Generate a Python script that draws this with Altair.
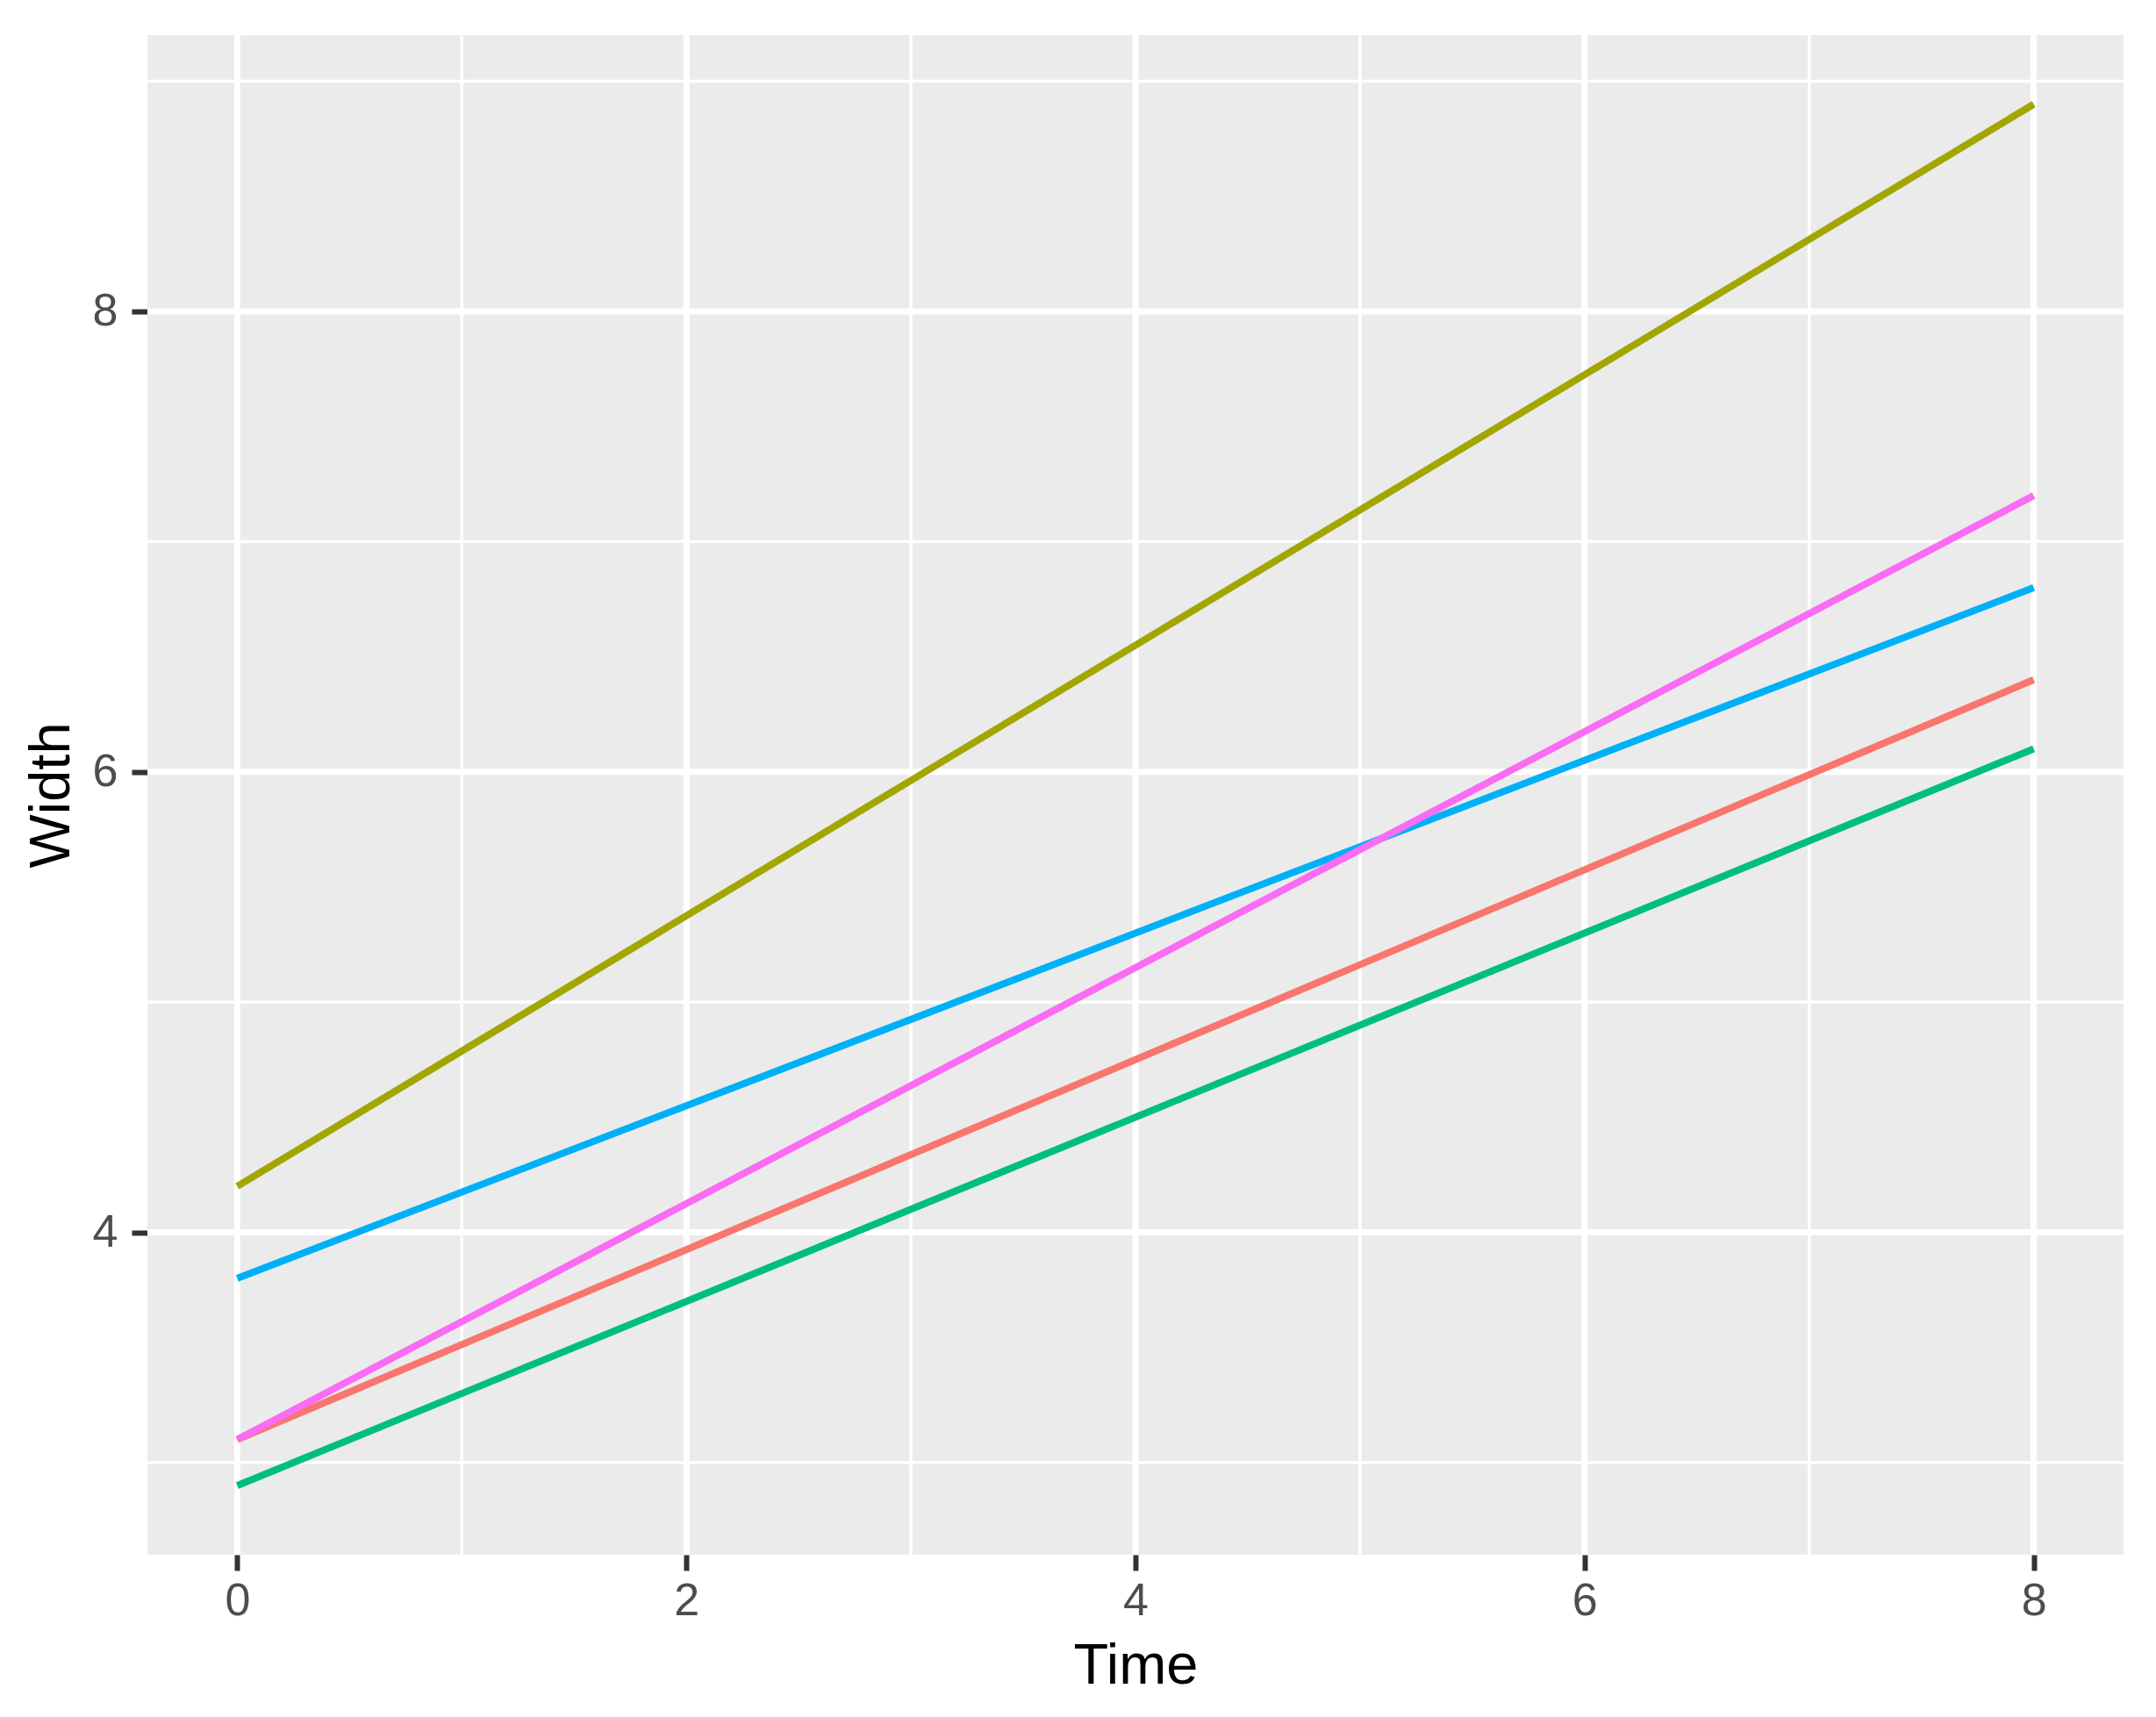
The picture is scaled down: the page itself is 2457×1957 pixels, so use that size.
import altair as alt
import pandas as pd

# Data (each series is a straight line from Time 0 to Time 8)
series = ["1", "2", "3", "4", "5"]
time_points = [0, 8]
width_start = [3.1, 4.2, 2.9, 3.8, 3.1]
width_end = [6.4, 8.9, 6.1, 6.8, 7.2]
colors = ["#F8766D", "#A3A500", "#00BF7D", "#00B0F6", "#F96CF3"]

x_major = [0, 2, 4, 6, 8]
x_minor = [1, 3, 5, 7]
y_major = [4, 6, 8]
y_minor = [3, 5, 7, 9]

rows = []
for s, a, b in zip(series, width_start, width_end):
    rows.append({"Series": s, "Time": time_points[0], "Width": a})
    rows.append({"Series": s, "Time": time_points[1], "Width": b})
df = pd.DataFrame(rows)

x_dom = [-0.4, 8.4]
y_dom = [2.6, 9.2]
x_scale = alt.Scale(domain=x_dom, nice=False, zero=False)
y_scale = alt.Scale(domain=y_dom, nice=False, zero=False)

x_axis = alt.Axis(
    values=x_major,
    title="Time",
    titleY=146,
    titleBaseline="alphabetic",
    labelPadding=9,
    grid=False,
)
y_axis = alt.Axis(
    values=y_major,
    title="Width",
    titleX=-90,
    titleBaseline="alphabetic",
    labelPadding=16,
    grid=False,
)

# gridlines drawn as rules (minor thinner than major)
vminor = alt.Chart(pd.DataFrame({"Time": x_minor})).mark_rule(
    color="white", strokeWidth=3.5
).encode(x=alt.X("Time:Q", scale=x_scale, axis=x_axis))
hminor = alt.Chart(pd.DataFrame({"Width": y_minor})).mark_rule(
    color="white", strokeWidth=3.5
).encode(y=alt.Y("Width:Q", scale=y_scale, axis=y_axis))
vmajor = alt.Chart(pd.DataFrame({"Time": x_major})).mark_rule(
    color="white", strokeWidth=7
).encode(x=alt.X("Time:Q", scale=x_scale, axis=x_axis))
hmajor = alt.Chart(pd.DataFrame({"Width": y_major})).mark_rule(
    color="white", strokeWidth=7
).encode(y=alt.Y("Width:Q", scale=y_scale, axis=y_axis))

lines = alt.Chart(df).mark_line(strokeWidth=8, strokeCap="butt").encode(
    x=alt.X("Time:Q", scale=x_scale, axis=x_axis),
    y=alt.Y("Width:Q", scale=y_scale, axis=y_axis),
    color=alt.Color(
        "Series:N",
        scale=alt.Scale(domain=series, range=colors),
        legend=None,
    ),
    detail="Series:N",
)

chart = (
    alt.layer(vminor, hminor, vmajor, hmajor, lines)
    .properties(
        width=2252,
        height=1732,
        autosize=alt.AutoSizeParams(type="none"),
        padding={"left": 160, "top": 32, "right": 25, "bottom": 165},
        background="white",
    )
    .configure_view(fill="#EBEBEB", stroke=None)
    .configure_axis(
        domain=False,
        tickColor="#333333",
        tickWidth=6,
        tickSize=18,
        labelFont="Liberation Sans",
        labelFontSize=52,
        labelColor="#4D4D4D",
        titleFont="Liberation Sans",
        titleFontSize=65,
        titleFontWeight="normal",
        titleColor="#000000",
    )
)

chart.save("out.html", embed_options={"renderer": "svg", "actions": False})
